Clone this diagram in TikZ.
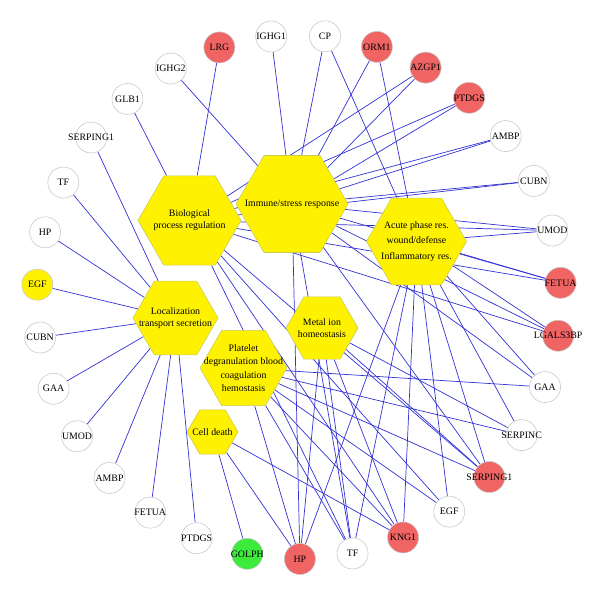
\documentclass[tikz,border=0pt]{standalone}
\usepackage{fontspec}
\setmainfont{Liberation Serif}
\usepackage{xcolor}
\usepackage{tikz}
\usetikzlibrary{shapes.geometric, backgrounds}

\definecolor{edgeblue}{RGB}{50,50,215}
\definecolor{ringgray}{RGB}{200,200,200}
\definecolor{upred}{RGB}{240,100,100}
\definecolor{downgreen}{RGB}{60,235,60}
\definecolor{hexline}{RGB}{200,200,90}

\begin{document}
\begin{tikzpicture}[x = 0.025cm, y = 0.025cm, font = \fontsize{7}{8.5}\selectfont]
            \tikzstyle{gene} = [circle, draw=ringgray, fill=white, minimum size=0.775cm, inner sep=0pt];
            \tikzstyle{upgene} = [gene, fill=upred];
            \tikzstyle{downgene} = [gene, fill=downgreen];
            \tikzstyle{yellowgene} = [gene, fill=yellow];
            \tikzstyle{term} = [regular polygon, regular polygon sides=6, draw=hexline, fill=yellow, inner sep=0pt];
            \tikzstyle{link} = [draw=edgeblue, line width=0.5pt];
            \useasboundingbox (-299,-298) rectangle (301,297);

            \node [term, minimum size=2.575cm, label={[align=center]center:Biological\\process regulation}] (T1) at (-109.5, 76.5) {};
            \node [term, minimum size=2.8cm, label={center:Immune/stress response}] (T2) at (-7, 93) {};
            \node [term, minimum size=2.5cm, label={[align=center]center:Acute phase res.\\[2.5pt]wound/defense\\[2.5pt]Inflammatory res.}] (T3) at (117.5, 55.5) {};
            \node [term, minimum size=2.125cm, label={[align=center]center:Localization\\transport secretion}] (T4) at (-123.5, -21) {};
            \node [term, minimum size=2.175cm, label={[align=center]center:Platelet\\[1pt]degranulation blood\\[1pt]coagulation\\[1pt]hemostasis}] (T5) at (-55.5, -71) {};
            \node [term, minimum size=1.8cm, label={[align=center]center:Metal ion\\homeostasis}] (T6) at (23, -31) {};
            \node [term, minimum size=1.275cm, label={center:Cell death}] (T7) at (-86.5, -135) {};

            \node [gene, label=center:CP] (G0) at (84.3:262) {};
            \node [upgene, label=center:ORM1] (G1) at (72.7:262) {};
            \node [upgene, label=center:AZGP1] (G2) at (61.1:262) {};
            \node [upgene, label=center:PTDGS] (G3) at (49.5:262) {};
            \node [gene, label=center:AMBP] (G4) at (37.9:262) {};
            \node [gene, label=center:CUBN] (G5) at (26.3:262) {};
            \node [gene, label=center:UMOD] (G6) at (14.7:262) {};
            \node [upgene, label=center:FETUA] (G7) at (3.1:262) {};
            \node [upgene, label=center:LGALS3BP] (G8) at (-8.5:262) {};
            \node [gene, label=center:GAA] (G9) at (-20.1:262) {};
            \node [gene, label=center:SERPINC] (G10) at (-31.8:262) {};
            \node [upgene, label=center:SERPING1] (G11) at (-43.4:262) {};
            \node [gene, label=center:EGF] (G12) at (-55.0:262) {};
            \node [upgene, label=center:KNG1] (G13) at (-66.6:262) {};
            \node [gene, label=center:TF] (G14) at (-78.2:262) {};
            \node [upgene, label=center:HP] (G15) at (-89.8:262) {};
            \node [downgene, label=center:GOLPH] (G16) at (-101.4:262) {};
            \node [gene, label=center:PTDGS] (G17) at (-113.0:262) {};
            \node [gene, label=center:FETUA] (G18) at (-124.6:262) {};
            \node [gene, label=center:AMBP] (G19) at (-136.3:262) {};
            \node [gene, label=center:UMOD] (G20) at (-147.9:262) {};
            \node [gene, label=center:GAA] (G21) at (-159.5:262) {};
            \node [gene, label=center:CUBN] (G22) at (-171.1:262) {};
            \node [yellowgene, label=center:EGF] (G23) at (-182.7:262) {};
            \node [gene, label=center:HP] (G24) at (-194.3:262) {};
            \node [gene, label=center:TF] (G25) at (-205.9:262) {};
            \node [gene, label=center:SERPING1] (G26) at (-217.5:262) {};
            \node [gene, label=center:GLB1] (G27) at (-229.1:262) {};
            \node [gene, label=center:IGHG2] (G28) at (-240.7:262) {};
            \node [upgene, label=center:LRG] (G29) at (-252.3:262) {};
            \node [gene, label=center:IGHG1] (G30) at (-263.9:262) {};

            \begin{scope}[on background layer]
            \draw [link] (G0) to (T2);
            \draw [link] (G0) to (T3);
            \draw [link] (G1) to (T2);
            \draw [link] (G1) to (T3);
            \draw [link] (G2) to (T1);
            \draw [link] (G2) to (T2);
            \draw [link] (G3) to (T1);
            \draw [link] (G3) to (T2);
            \draw [link] (G4) to (T1);
            \draw [link] (G4) to (T2);
            \draw [link] (G5) to (T1);
            \draw [link] (G5) to (T2);
            \draw [link] (G6) to (T1);
            \draw [link] (G6) to (T2);
            \draw [link] (G6) to (T3);
            \draw [link] (G7) to (T1);
            \draw [link] (G7) to (T2);
            \draw [link] (G7) to (T3);
            \draw [link] (G8) to (T1);
            \draw [link] (G8) to (T2);
            \draw [link] (G8) to (T3);
            \draw [link] (G9) to (T2);
            \draw [link] (G9) to (T3);
            \draw [link] (G9) to (T5);
            \draw [link] (G10) to (T3);
            \draw [link] (G10) to (T5);
            \draw [link] (G10) to (T6);
            \draw [link] (G11) to (T1);
            \draw [link] (G11) to (T2);
            \draw [link] (G11) to (T3);
            \draw [link] (G11) to (T5);
            \draw [link] (G11) to (T6);
            \draw [link] (G12) to (T1);
            \draw [link] (G12) to (T3);
            \draw [link] (G12) to (T5);
            \draw [link] (G13) to (T1);
            \draw [link] (G13) to (T3);
            \draw [link] (G13) to (T5);
            \draw [link] (G13) to (T6);
            \draw [link] (G13) to (T7);
            \draw [link] (G14) to (T1);
            \draw [link] (G14) to (T2);
            \draw [link] (G14) to (T3);
            \draw [link] (G14) to (T5);
            \draw [link] (G14) to (T6);
            \draw [link] (G15) to (T2);
            \draw [link] (G15) to (T3);
            \draw [link] (G15) to (T5);
            \draw [link] (G15) to (T6);
            \draw [link] (G15) to (T7);
            \draw [link] (G16) to (T7);
            \draw [link] (G17) to (T4);
            \draw [link] (G18) to (T4);
            \draw [link] (G19) to (T4);
            \draw [link] (G20) to (T4);
            \draw [link] (G21) to (T4);
            \draw [link] (G22) to (T4);
            \draw [link] (G23) to (T4);
            \draw [link] (G24) to (T4);
            \draw [link] (G25) to (T4);
            \draw [link] (G26) to (T4);
            \draw [link] (G27) to (T1);
            \draw [link] (G28) to (T2);
            \draw [link] (G29) to (T1);
            \draw [link] (G30) to (T2);
            \end{scope}
        \end{tikzpicture}
\end{document}
